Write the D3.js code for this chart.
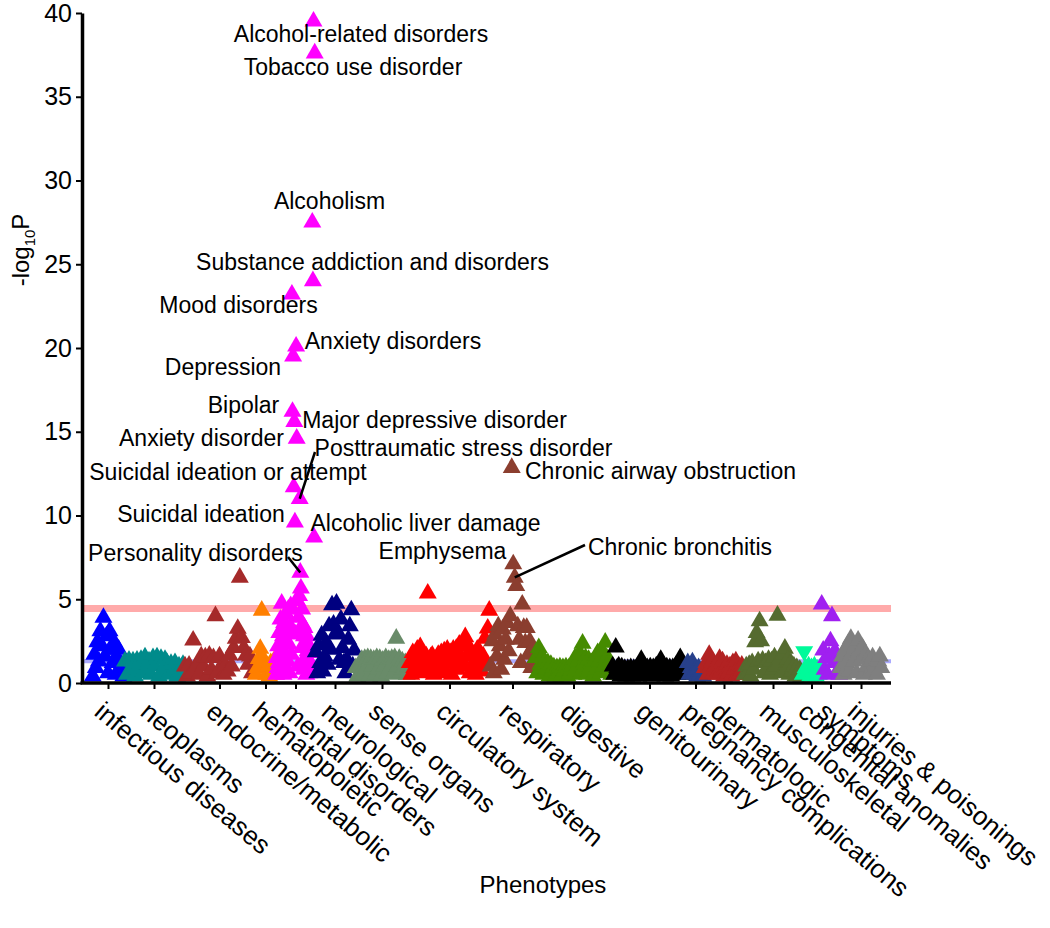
<!DOCTYPE html>
<html><head><meta charset="utf-8">
<script src="https://cdn.jsdelivr.net/npm/d3@7"></script>
<style>body{margin:0;background:#fff;} svg text{font-family:"Liberation Sans",Arial,Helvetica,sans-serif;fill:#000;}</style>
</head><body><svg id="c" width="1050" height="928"></svg>
<script>
// ---------------- DATA ----------------
const categories = ["infectious diseases","neoplasms","endocrine/metabolic","hematopoietic","mental disorders","neurological","sense organs","circulatory system","respiratory","digestive","genitourinary","pregnancy complications","dermatologic","musculoskeletal","congenital anomalies","symptoms","injuries & poisonings"];
const categoryColors = ["#0000FF","#008B8B","#A52A2A","#FF7F00","#FF00FF","#000080","#698B69","#FF0000","#8B3E2F","#458B00","#000000","#27408B","#B22222","#556B2F","#00FA9A","#A020F0","#7F7F7F"];
// number of phecodes spanned by each category (x extent, in phecode order)
const phecodeSpan = [64,120,142,42,78,80,108,162,90,154,150,34,80,116,38,38,84];

// signed -log10(P) per phenotype in phecode order (negative = inverse association, drawn as a down triangle)
const infectious = [0.4,1.7,0.9,2.45,1.3,3.1,2.2,3.9,1.6,2.8,0.6,3.1,2.0,1.2,2.45,0.5,1.5,2.0,0.8,1.1,0.4];
const neoplasms = [1.3,0.5,1.35,0.8,1.3,0.4,1.35,1.0,1.4,0.6,1.55,0.9,1.3,0.5,1.5,1.0,1.55,0.4,1.45,0.8,1.4,1.2,0.5,1.15,0.7,1.2,0.4,1.0,0.6,1.1];
const endocrine = [1.0,0.4,1.05,0.6,2.55,0.9,1.05,0.5,1.6,1.0,1.55,0.4,1.65,0.8,1.5,4.0,0.6,1.6,1.05,0.5,1.05,0.7,1.65,1.0,2.1,2.65,3.25,6.3,2.7,2.1,1.65,1.1,1.6,0.6,1.2];
const hematopoietic = [0.5,0.9,1.45,2.05,4.33,1.45,0.9,0.5,1.0,0.4,1.2,0.6,1.3,0.5];
const mental = [0.5,1.5,0.9,2.2,1.2,3.0,0.6,3.8,2.0,4.75,1.4,2.8,0.5,3.6,1.8,2.6,0.9,4.1,3.1,1.3,4.4,2.3,0.6,3.4,4.6,1.7,
  23.2,16.2,19.5,11.7,15.6,9.6,2.9,20.1,14.6,4.9,1.0,3.9,5.2,11.0,6.6,5.65,2.1,4.4,3.5,0.8,2.8,3.3,1.5,2.4,0.5,2.8,1.9,1.2,2.2,0.6,1.8,1.2,2.0,0.7,
  27.5,24.0,39.5,8.7,37.6];
const neurological = [1.85,0.6,2.25,1.2,2.85,0.7,1.6,2.4,1.1,3.4,2.0,4.65,3.5,2.9,4.75,3.0,1.4,3.8,2.1,1.2,0.6,1.4,2.6,3.4,4.35,1.0,1.95];
const senseOrgans = [0.9,0.4,0.9,0.6,1.4,0.5,1.45,0.9,1.5,0.4,1.45,1.0,1.4,0.5,1.5,0.8,1.45,0.4,1.35,1.0,1.5,0.6,1.4,0.9,1.45,0.5,1.5,2.66,1.0,1.45,0.6,1.3,0.8,1.2,0.5,1.0];
const circulatory = [1.2,0.5,1.8,0.9,1.5,2.0,1.1,2.15,0.6,1.7,1.2,1.6,5.35,0.8,1.55,1.65,0.5,1.4,1.0,1.7,0.6,1.8,1.3,1.9,0.7,2.0,1.2,1.8,0.5,2.0,1.4,2.05,0.8,2.3,1.5,2.2,1.0,2.75,1.6,2.2,0.6,1.9,1.1,1.7,0.5,2.0,1.2,1.8,0.7,1.6,2.66,1.2,3.26,4.33];
const respiratory = [1.0,2.5,0.6,2.9,1.6,3.4,2.2,0.8,3.2,1.4,2.6,3.6,1.9,4.0,12.85,7.1,6.3,5.8,3.4,2.6,1.2,4.7,3.3,2.4,3.3,1.7,2.5,0.9,2.1,1.4];
const digestive = [1.5,0.6,2.1,1.1,1.5,0.5,1.3,0.8,1.2,0.4,1.1,0.7,0.95,0.4,0.9,0.6,0.95,0.4,0.9,0.7,0.95,0.4,0.9,0.6,1.0,0.5,1.5,0.9,1.3,1.8,0.6,2.36,1.2,1.5,0.5,1.4,0.9,1.2,0.4,1.3,0.8,1.8,1.3,0.6,1.9,1.0,2.42,1.5,0.7,1.3,0.5];
const genitourinary = [1.0,0.5,2.13,0.9,1.0,0.4,0.95,0.6,0.85,0.4,0.85,0.6,0.9,0.4,0.85,0.7,0.9,0.4,1.0,1.4,0.6,1.0,0.5,0.9,0.7,0.95,0.4,0.9,0.6,1.0,0.5,1.0,1.4,0.7,1.0,0.4,0.95,0.6,0.9,0.4,0.9,0.7,1.0,0.5,1.1,1.5,0.6,1.0,0.5,0.9];
const pregnancy = [1.2,0.5,0.9,1.25,0.6,0.8,0.4,0.9,0.5,0.7,0.4];
const dermatologic = [0.9,1.2,0.5,1.7,1.0,1.3,0.6,1.0,0.5,1.2,1.45,0.7,1.3,0.4,0.9,1.1,0.6,1.0,0.4,1.2,0.8,1.3,0.5,1.0,0.6,1.05,0.5];
const musculoskeletal = [0.5,1.0,0.6,1.1,0.4,1.2,0.8,2.45,3.0,1.3,3.7,2.5,1.35,0.6,1.2,0.9,1.4,0.5,1.3,0.8,1.55,1.0,4.03,1.2,1.5,0.6,1.7,2.06,0.9,1.4,0.5,1.2,0.7,1.0,0.4,0.9,0.6,0.8,0.4];
const congenital = [0.5,-1.89,0.9,0.6,1.0,0.4,0.9,0.5,1.0,0.4,0.8,0.5,0.9];
const symptoms = [4.7,1.95,0.8,1.5,0.5,1.6,2.5,4.0,1.2,1.9,0.6,1.3,0.5];
const injuries = [0.9,1.6,0.5,2.0,1.2,2.3,0.7,2.65,1.8,1.3,2.2,0.6,2.55,1.9,1.4,2.1,0.5,1.7,1.0,1.45,0.6,1.3,1.55,0.8,1.2,0.5,1.3,1.6,0.9];

const seriesValues = [infectious,neoplasms,endocrine,hematopoietic,mental,neurological,senseOrgans,circulatory,respiratory,digestive,genitourinary,pregnancy,dermatologic,musculoskeletal,congenital,symptoms,injuries];

const yTicks = [0,5,10,15,20,25,30,35,40];
const bonferroniLine = 4.45;   // -log10(0.05 / n tests)
const nominalLine = 1.3;       // -log10(0.05)

// labelled phenotypes: [name, category index, position in that category's list]
const annotations = [
  ["Alcohol-related disorders",4,62],["Tobacco use disorder",4,64],["Alcoholism",4,60],
  ["Substance addiction and disorders",4,61],["Mood disorders",4,26],["Anxiety disorders",4,33],
  ["Depression",4,28],["Bipolar",4,27],["Major depressive disorder",4,30],["Anxiety disorder",4,34],
  ["Posttraumatic stress disorder",4,39],["Chronic airway obstruction",8,14],
  ["Suicidal ideation or attempt",4,29],["Suicidal ideation",4,31],["Alcoholic liver damage",4,63],
  ["Personality disorders",4,40],["Emphysema",8,15],["Chronic bronchitis",8,16]
];

// ---------------- LAYOUT ----------------
const svg = d3.select("#c");
const total = d3.sum(phecodeSpan);
const starts = [0, ...d3.cumsum(phecodeSpan)];
const x = d3.scaleLinear().domain([0, total]).range([92, 882]);
const y = d3.scaleLinear().domain([0, 40]).range([683, 13]);

const pts = [];
seriesValues.forEach((vals, k) => {
  vals.forEach((v, j) => {
    pts.push({k, j, v: Math.abs(v), down: v < 0,
      u: starts[k] + (j + 0.5) * phecodeSpan[k] / vals.length});
  });
});
const ptOf = (k, j) => pts.find(p => p.k === k && p.j === j);

// reference lines (behind points)
svg.append("line").attr("x1", 83).attr("x2", 891).attr("y1", y(nominalLine)).attr("y2", y(nominalLine))
  .attr("stroke", "#AAAAFF").attr("stroke-width", 4);
svg.append("line").attr("x1", 83).attr("x2", 891).attr("y1", y(bonferroniLine)).attr("y2", y(bonferroniLine))
  .attr("stroke", "#FFAAAA").attr("stroke-width", 7);

// points
const up = "M0,-10.4L9,5.2L-9,5.2Z", dn = "M0,10.4L9,-5.2L-9,-5.2Z";
svg.append("g").selectAll("path").data(pts).join("path")
  .attr("d", d => d.down ? dn : up)
  .attr("transform", d => `translate(${x(d.u)},${y(d.v)})`)
  .attr("fill", d => categoryColors[d.k]);

// axes
const yAxis = d3.axisLeft(y).tickValues(yTicks).tickSize(6).tickSizeOuter(0).tickPadding(4);
const gy = svg.append("g").attr("transform", "translate(82,0)").call(yAxis);
gy.select(".domain").attr("stroke-width", 3.5);
gy.selectAll(".tick line").attr("stroke-width", 2);
gy.selectAll(".tick text").attr("font-size", 25).attr("font-family", '"Liberation Sans",Arial,sans-serif');

const mids = categories.map((c, k) => starts[k] + phecodeSpan[k] / 2);
const xAxis = d3.axisBottom(x).tickValues(mids).tickSize(6).tickSizeOuter(0).tickFormat("");
const gx = svg.append("g").attr("transform", "translate(0,683)").call(xAxis);
gx.select(".domain").remove();
gx.selectAll(".tick line").attr("stroke-width", 2);
svg.append("line").attr("x1", 80.5).attr("x2", 891).attr("y1", 683).attr("y2", 683)
  .attr("stroke", "#000").attr("stroke-width", 3.5);

svg.append("g").selectAll("text").data(categories).join("text")
  .attr("transform", (d, k) => `translate(${x(mids[k]) - 3},700) rotate(40)`)
  .attr("dy", "0.72em").attr("font-size", 26).text(d => d);

// axis titles
svg.append("text").attr("x", 543).attr("y", 893).attr("text-anchor", "middle").attr("font-size", 24).text("Phenotypes");
const yt = svg.append("text").attr("transform", "translate(29,250) rotate(-90)").attr("text-anchor", "middle").attr("font-size", 24);
yt.append("tspan").text("-log");
yt.append("tspan").attr("font-size", 15).attr("dy", 6).text("10");
yt.append("tspan").attr("dy", -6).text("P");

// annotation labels (centre positions)
const labelPos = {
  "Alcohol-related disorders":[361,34], "Tobacco use disorder":[353,67], "Alcoholism":[329.5,201],
  "Substance addiction and disorders":[372.5,262], "Mood disorders":[238.5,305], "Anxiety disorders":[393,341],
  "Depression":[223,367], "Bipolar":[243.5,405], "Major depressive disorder":[434.5,420],
  "Anxiety disorder":[201.5,438], "Posttraumatic stress disorder":[463.5,448], "Chronic airway obstruction":[660.5,471],
  "Suicidal ideation or attempt":[228,472], "Suicidal ideation":[201,514], "Alcoholic liver damage":[425.5,523],
  "Personality disorders":[195.5,553], "Emphysema":[442.5,551], "Chronic bronchitis":[680,547]
};
const leaderFrom = {"Posttraumatic stress disorder":[315,452], "Personality disorders":[288,557], "Chronic bronchitis":[585,545]};
annotations.forEach(([name, k, j]) => {
  const p = ptOf(k, j);
  if (leaderFrom[name]) {
    svg.append("line").attr("x1", leaderFrom[name][0]).attr("y1", leaderFrom[name][1])
      .attr("x2", x(p.u)).attr("y2", y(p.v)).attr("stroke", "#000").attr("stroke-width", 2.5);
  }
  svg.append("text").attr("x", labelPos[name][0]).attr("y", labelPos[name][1])
    .attr("text-anchor", "middle").attr("dominant-baseline", "central").attr("font-size", 23).text(name);
});
</script></body></html>
